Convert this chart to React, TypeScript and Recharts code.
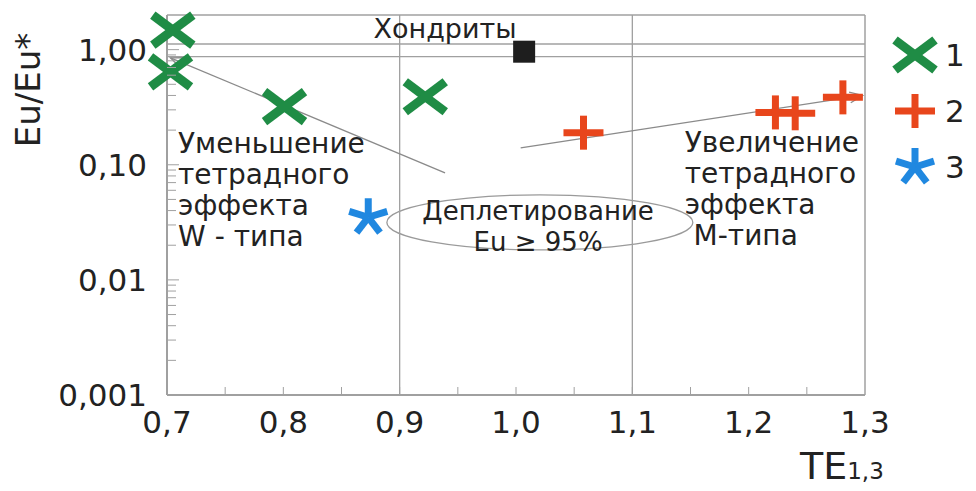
import React from 'react';
import { ScatterChart, Scatter, XAxis, YAxis, ReferenceLine, ReferenceDot, ReferenceArea, Legend } from 'recharts';

// ---- data ----
const series1 = [
  { x: 0.705, y: 1.48 },
  { x: 0.703, y: 0.64 },
  { x: 0.801, y: 0.32 },
  { x: 0.922, y: 0.39 },
];
const series2 = [
  { x: 1.058, y: 0.19 },
  { x: 1.223, y: 0.285 },
  { x: 1.240, y: 0.28 },
  { x: 1.281, y: 0.385 },
];
const series3 = [{ x: 0.873, y: 0.035 }];
const chondrite = [{ x: 1.007, y: 0.96 }];
const chondriteBand = [0.87, 1.12];
const gridX = [0.9, 1.1];
const xDomain = [0.7, 1.3];
const yDomain = [0.001, 2];
const xTicks = [0.7, 0.75, 0.8, 0.85, 0.9, 0.95, 1.0, 1.05, 1.1, 1.15, 1.2, 1.25, 1.3];
const xLabelTicks = [0.7, 0.8, 0.9, 1.0, 1.1, 1.2, 1.3];
const xTickLabels = ['0,7', '0,8', '0,9', '1,0', '1,1', '1,2', '1,3'];
const yDecades = [0.001, 0.01, 0.1, 1];
const yTickLabels = ['0,001', '0,01', '0,10', '1,00'];
const yTicks = [
  0.001, 0.002, 0.003, 0.004, 0.005, 0.006, 0.007, 0.008, 0.009,
  0.01, 0.02, 0.03, 0.04, 0.05, 0.06, 0.07, 0.08, 0.09,
  0.1, 0.2, 0.3, 0.4, 0.5, 0.6, 0.7, 0.8, 0.9,
  1,
];
const trendW = [{ x: 0.703, y: 0.85 }, { x: 0.939, y: 0.085 }];
const trendM = [{ x: 1.004, y: 0.14 }, { x: 1.298, y: 0.40 }];
const depletionEllipse = { x1: 0.889, x2: 1.152, y1: 0.0182, y2: 0.0548 };
const seriesNames = ['1', '2', '3'];
const annotations = [
  { x: 0.939, y: 1.27, lines: ['Хондриты'], anchor: 'middle', size: 27 },
  { x: 0.7095, y: 0.127, lines: ['Уменьшение', 'тетрадного', 'эффекта', 'W - типа'], anchor: 'start', size: 28 },
  { x: 1.145, y: 0.128, lines: ['Увеличение', 'тетрадного', 'эффекта', ' М-типа'], anchor: 'start', size: 28 },
  { x: 1.019, y: 0.0333, lines: ['Деплетирование', 'Eu ≥ 95%'], anchor: 'middle', size: 26 },
];

// ---- styles ----
const FONT = 'DejaVu Sans, Arial, sans-serif';
const GREEN = '#1f8c45';
const RED = '#e8461c';
const BLUE = '#2088e0';
const GRAY = '#a0a0a0';
const TEXT = '#222';

const CrossMark = ({ cx, cy }: any) => (
  <g stroke={GREEN} strokeWidth={9} strokeLinecap="butt">
    <line x1={cx - 20} y1={cy - 15} x2={cx + 20} y2={cy + 15} />
    <line x1={cx - 20} y1={cy + 15} x2={cx + 20} y2={cy - 15} />
  </g>
);
const PlusMark = ({ cx, cy }: any) => (
  <g stroke={RED} strokeWidth={7}>
    <line x1={cx - 20} y1={cy} x2={cx + 20} y2={cy} />
    <line x1={cx} y1={cy - 17} x2={cx} y2={cy + 17} />
  </g>
);
const StarMark = ({ cx, cy }: any) => {
  const angles = [-90, -18, 54, 126, 198];
  return (
    <g stroke={BLUE} strokeWidth={7} strokeLinecap="butt">
      {angles.map((a) => {
        const r = (a * Math.PI) / 180;
        return <line key={a} x1={cx} y1={cy} x2={cx + Math.cos(r) * 20} y2={cy + Math.sin(r) * 19} />;
      })}
    </g>
  );
};
const SquareMark = ({ cx, cy }: any) => (
  <rect x={cx - 11} y={cy - 11} width={22} height={22} fill="#1e1e1e" />
);

const arrowLine = (atStart: boolean) => (p: any) => {
  const { x1, y1, x2, y2 } = p;
  const tipX = atStart ? x1 : x2;
  const tipY = atStart ? y1 : y2;
  const fromX = atStart ? x2 : x1;
  const fromY = atStart ? y2 : y1;
  const ang = Math.atan2(fromY - tipY, fromX - tipX);
  const L = 14;
  const s = 0.4;
  return (
    <g stroke="#8a8a8a" strokeWidth={1.3} fill="none">
      <line x1={x1} y1={y1} x2={x2} y2={y2} />
      <polyline
        points={`${tipX + Math.cos(ang + s) * L},${tipY + Math.sin(ang + s) * L} ${tipX},${tipY} ${tipX + Math.cos(ang - s) * L},${tipY + Math.sin(ang - s) * L}`}
      />
    </g>
  );
};

const YTick = (props: any) => {
  const { x, y, payload } = props;
  const v = payload.value;
  const idx = yDecades.findIndex((d) => Math.abs(d - v) < d * 1e-6);
  return (
    <g>
      <line x1={x} y1={y} x2={x + (idx >= 0 ? 12 : 9)} y2={y} stroke={GRAY} strokeWidth={1} />
      {idx >= 0 && (
        <text x={x - 20} y={y + 11} textAnchor="end" fontFamily={FONT} fontSize={31} fill={TEXT}>
          {yTickLabels[idx]}
        </text>
      )}
    </g>
  );
};

const XTick = (props: any) => {
  const { x, y, payload } = props;
  const v = payload.value;
  const idx = xLabelTicks.findIndex((d) => Math.abs(d - v) < 1e-6);
  const isEdge = Math.abs(v - xDomain[0]) < 1e-6 || Math.abs(v - xDomain[1]) < 1e-6;
  return (
    <g>
      {!isEdge && <line x1={x} y1={y} x2={x} y2={y - 8} stroke={GRAY} strokeWidth={1} />}
      {idx >= 0 && (
        <text x={x} y={y + 38} textAnchor="middle" fontFamily={FONT} fontSize={31} fill={TEXT}>
          {xTickLabels[idx]}
        </text>
      )}
    </g>
  );
};

const annotationShape = (a: any) => (p: any) => (
  <text x={p.cx} y={p.cy} textAnchor={a.anchor} fontFamily={FONT} fontSize={a.size} fill={TEXT}>
    {a.lines.map((l: string, i: number) => (
      <tspan key={i} x={p.cx} dy={i === 0 ? 0 : 31} style={{ whiteSpace: 'pre' }}>
        {l}
      </tspan>
    ))}
  </text>
);

const legendMarks = [CrossMark, PlusMark, StarMark];

const LegendContent = () => (
  <div style={{ fontFamily: FONT, width: 91 }}>
    {seriesNames.map((n, i) => {
      const M = legendMarks[i];
      return (
        <div key={n} style={{ display: 'flex', alignItems: 'center', height: 56 }}>
          <svg width={56} height={50}>
            <M cx={30} cy={25} />
          </svg>
          <span style={{ fontSize: 31, color: TEXT, marginLeft: 4 }}>{n}</span>
        </div>
      );
    })}
  </div>
);

export default function App() {
  return (
    <div style={{ position: 'absolute', left: 0, top: 0, width: 976, height: 491, background: '#fff' }}>
      <ScatterChart width={976} height={491} margin={{ top: 15, right: 20, bottom: 36, left: 10 }}>
        <XAxis
          type="number"
          dataKey="x"
          domain={xDomain}
          ticks={xTicks}
          interval={0}
          tick={<XTick />}
          tickLine={false}
          tickSize={0}
          tickMargin={0}
          height={60}
          axisLine={{ stroke: GRAY, strokeWidth: 2 }}
          label={(p: any) => {
            const vb = p.viewBox;
            return (
              <text x={vb.x + vb.width - 65} y={vb.y + 84} fontFamily={FONT} fill={TEXT}>
                <tspan fontSize={38}>TE</tspan>
                <tspan fontSize={23}>1,3</tspan>
              </text>
            );
          }}
        />
        <YAxis
          type="number"
          dataKey="y"
          scale="log"
          domain={yDomain}
          ticks={yTicks}
          interval={0}
          tick={<YTick />}
          tickLine={false}
          tickSize={0}
          tickMargin={0}
          width={157}
          axisLine={{ stroke: GRAY, strokeWidth: 2 }}
          label={(p: any) => {
            const vb = p.viewBox;
            const lx = vb.x + 30;
            const ly = vb.y + 75;
            return (
              <text
                x={lx}
                y={ly}
                transform={`rotate(-90 ${lx} ${ly})`}
                textAnchor="middle"
                fontFamily={FONT}
                fontSize={34}
                fill={TEXT}
              >
                Eu/Eu*
              </text>
            );
          }}
        />
        <ReferenceLine y={yDomain[1]} stroke={GRAY} strokeWidth={1.5} />
        <ReferenceLine x={xDomain[1]} stroke={GRAY} strokeWidth={1.5} />
        {gridX.map((g) => (
          <ReferenceLine key={g} x={g} stroke={GRAY} strokeWidth={1.3} />
        ))}
        {chondriteBand.map((b) => (
          <ReferenceLine key={b} y={b} stroke={GRAY} strokeWidth={1.3} />
        ))}
        <ReferenceLine segment={trendW} shape={arrowLine(true)} />
        <ReferenceLine segment={trendM} shape={arrowLine(false)} />
        <ReferenceArea
          x1={depletionEllipse.x1}
          x2={depletionEllipse.x2}
          y1={depletionEllipse.y1}
          y2={depletionEllipse.y2}
          shape={(p: any) => (
            <ellipse
              cx={p.x + p.width / 2}
              cy={p.y + p.height / 2}
              rx={p.width / 2}
              ry={p.height / 2}
              fill="none"
              stroke="#9a9a9a"
              strokeWidth={1.3}
            />
          )}
        />
        {annotations.map((a, i) => (
          <ReferenceDot key={i} x={a.x} y={a.y} r={0} shape={annotationShape(a)} />
        ))}
        <Scatter name="chondrite" data={chondrite} shape={<SquareMark />} legendType="none" isAnimationActive={false} />
        <Scatter name={seriesNames[0]} data={series1} shape={<CrossMark />} isAnimationActive={false} />
        <Scatter name={seriesNames[1]} data={series2} shape={<PlusMark />} isAnimationActive={false} />
        <Scatter name={seriesNames[2]} data={series3} shape={<StarMark />} isAnimationActive={false} />
        <Legend
          layout="vertical"
          align="right"
          verticalAlign="top"
          content={<LegendContent />}
          wrapperStyle={{ left: 885, top: 27, width: 91 }}
        />
      </ScatterChart>
    </div>
  );
}
